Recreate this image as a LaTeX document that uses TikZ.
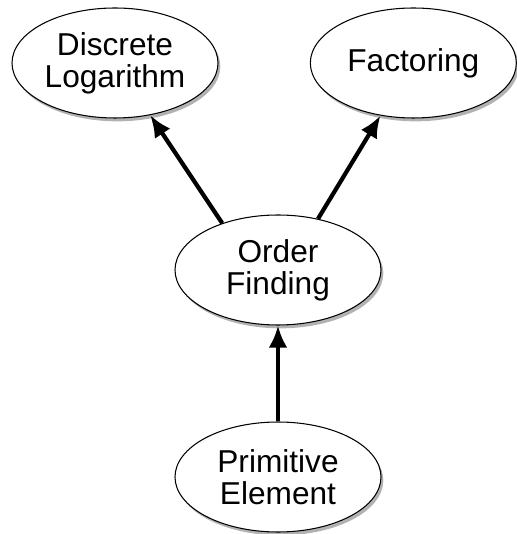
\documentclass[tikz,border=0pt]{standalone}
\usepackage{fontspec}
\setmainfont{Liberation Sans}
\usetikzlibrary{arrows.meta,shapes.geometric,shadows}

\begin{document}
\begin{tikzpicture}[>={Latex[length=0.66cm,width=0.56cm]},
  topic/.style={ellipse,draw,line width=0.9pt,fill=white,inner sep=0pt,
    minimum width=6.18cm,minimum height=3.3cm,align=center,
    font=\fontsize{27}{27.5}\selectfont,
    drop shadow={shadow xshift=0.07cm,shadow yshift=-0.1cm,opacity=0.5,fill=black!60}},
  link/.style={->,line width=3.6pt}]
  \useasboundingbox (0,0) rectangle (15.51,16.02);
  \node[topic] (DL) at (3.45,14.13) {Discrete\\Logarithm};
  \node[topic] (Fac) at (12.4,14.13) {Factoring};
  \node[topic] (OF) at (8.34,7.92) {Order\\Finding};
  \node[topic] (PE) at (8.34,1.71) {Primitive\\Element};
  \draw[link] (OF.140) -- (DL.-56);
  \draw[link] (OF.52) -- (Fac.238.7);
  \draw[link] (PE.north) -- (OF.south);
\end{tikzpicture}
\end{document}
